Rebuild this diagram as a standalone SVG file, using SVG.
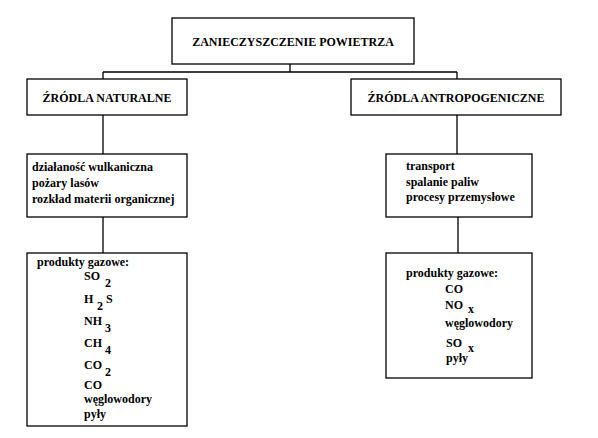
<svg xmlns="http://www.w3.org/2000/svg" width="598" height="438" viewBox="0 0 598 438">
<style>
.box{fill:#fff;stroke:#000;stroke-width:1.3}
.ln{stroke:#000;stroke-width:1.3;fill:none}
text{font-family:"Liberation Serif","DejaVu Serif","Times New Roman",serif;font-weight:bold;font-size:12px;fill:#000}
.c{text-anchor:middle}
</style>
<rect width="598" height="438" fill="#fff"/>
<g id="connectors">
<path class="ln" d="M290 64V72M103 72H457M103 72V79M457 72V79"/>
<path class="ln" d="M103 115V154M457 115V154"/>
<path class="ln" d="M103 217V253M458 217V253"/>
</g>
<g id="root">
<rect class="box" x="172" y="18" width="242" height="46"/>
<text class="c" x="293" y="46">ZANIECZYSZCZENIE POWIETRZA</text>
</g>
<g id="natural">
<rect class="box" x="27" y="79" width="160" height="36"/>
<text class="c" x="107" y="102">ŹRÓDLA NATURALNE</text>
</g>
<g id="anthropogenic">
<rect class="box" x="351" y="79" width="210" height="36"/>
<text class="c" x="456" y="102">ŹRÓDLA ANTROPOGENICZNE</text>
</g>
<g id="natural-sources">
<rect class="box" x="27" y="154" width="160" height="63"/>
<text x="32" y="171">działaność wulkaniczna</text>
<text x="32" y="187">pożary lasów</text>
<text x="32" y="203">rozkład materii organicznej</text>
</g>
<g id="anthropogenic-sources">
<rect class="box" x="386" y="154" width="146" height="63"/>
<text x="406" y="170">transport</text>
<text x="406" y="186">spalanie paliw</text>
<text x="406" y="201">procesy przemysłowe</text>
</g>
<g id="natural-products">
<rect class="box" x="27" y="253" width="160" height="173"/>
<text x="37" y="266">produkty gazowe:</text>
<text x="84" y="280">SO</text><text x="105" y="287">2</text>
<text x="84" y="303">H</text><text x="97" y="310">2</text><text x="106" y="303">S</text>
<text x="84" y="325">NH</text><text x="105" y="332">3</text>
<text x="84" y="347">CH</text><text x="105" y="354">4</text>
<text x="84" y="369">CO</text><text x="105" y="376">2</text>
<text x="84" y="389">CO</text>
<text x="84" y="403">węglowodory</text>
<text x="84" y="418">pyły</text>
</g>
<g id="anthropogenic-products">
<rect class="box" x="386" y="253" width="146" height="125"/>
<text x="406" y="277">produkty gazowe:</text>
<text x="445" y="293">CO</text>
<text x="445" y="309">NO</text><text x="468" y="313">x</text>
<text x="445" y="327">węglowodory</text>
<text x="446" y="347">SO</text><text x="468" y="352">x</text>
<text x="446" y="362">pyły</text>
</g>
</svg>
